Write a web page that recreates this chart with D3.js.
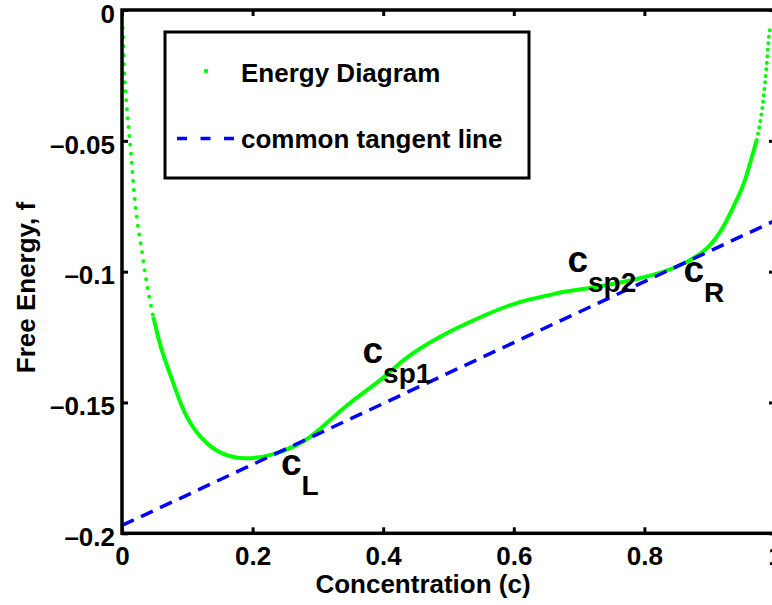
<!DOCTYPE html>
<html>
<head>
<meta charset="utf-8">
<script src="https://cdn.jsdelivr.net/npm/d3@7"></script>
<style>
  body { margin: 0; background: #fff; }
  text { font-family: "Liberation Sans", Arial, Helvetica, sans-serif; font-weight: bold; fill: #000; }
</style>
</head>
<body>
<svg id="chart" width="772" height="605"></svg>
<script>
// values
var conc = [0.001, 0.002, 0.003, 0.005, 0.0072, 0.0103, 0.0133, 0.0173, 0.0225, 0.0302, 0.0378, 0.0479,
            0.0608, 0.0786, 0.0991, 0.1297, 0.1603, 0.191, 0.2266, 0.2675, 0.3032, 0.3492, 0.3998, 0.441,
            0.5023, 0.5528, 0.6044, 0.6554, 0.6753, 0.727, 0.778, 0.8285, 0.8648, 0.8954, 0.9208, 0.9413,
            0.954, 0.972, 0.982, 0.987, 0.9913, 0.9934];
var energy = [-0.0070, -0.0127, -0.0210, -0.0293, -0.0370, -0.0452, -0.0535, -0.0662, -0.0790, -0.0917, -0.1043, -0.1172,
              -0.1299, -0.1426, -0.1554, -0.1655, -0.1701, -0.1713, -0.1701, -0.1663, -0.1601, -0.1502, -0.1406, -0.1320,
              -0.1229, -0.1170, -0.1120, -0.1089, -0.1078, -0.1058, -0.1034, -0.1001, -0.0963, -0.0911, -0.0828, -0.0726,
              -0.0650, -0.0497, -0.0344, -0.0217, -0.0088, -0.0064];

var tangentC = [0, 1];
var tangentF = [-0.197, -0.0805];

var xTicks = [0, 0.2, 0.4, 0.6, 0.8, 1];
var xTickLabels = ["0", "0.2", "0.4", "0.6", "0.8", "1"];
var yTicks = [0, -0.05, -0.1, -0.15, -0.2];
var yTickLabels = ["0", "\u20130.05", "\u20130.1", "\u20130.15", "\u20130.2"];

var pointNames = ["L", "sp1", "sp2", "R"];
var pointC = [0.2435, 0.3683, 0.6822, 0.8599];
var pointF = [-0.1777, -0.1350, -0.1000, -0.1038];

var legendNames = ["Energy Diagram", "common tangent line"];

var svg = d3.select("#chart");

var x = d3.scaleLinear().domain([0, 1]).range([122, 775]);
var y = d3.scaleLinear().domain([-0.2, 0]).range([533.3, 10]);

var curve = conc.map((c, i) => [c, energy[i]]);

var line = d3.line()
    .x(d => x(d[0]))
    .y(d => y(d[1]))
    .curve(d3.curveMonotoneX);

var smoothLine = d3.line()
    .x(d => x(d[0]))
    .y(d => y(d[1]))
    .curve(d3.curveNatural);

// steep ends are separate dots in the original, the middle looks solid
var leftPart = curve.slice(0, 12);
var midPart = curve.slice(11, 38);
var rightPart = curve.slice(37);

svg.append("path")
    .attr("d", smoothLine(midPart))
    .attr("fill", "none")
    .attr("stroke", "#00ff00")
    .attr("stroke-width", 4);

svg.append("path")
    .attr("d", line(leftPart))
    .attr("fill", "none")
    .attr("stroke", "#00ff00")
    .attr("stroke-width", 4)
    .attr("stroke-linecap", "round")
    .attr("stroke-dasharray", "0 9");

svg.append("path")
    .attr("d", line(rightPart))
    .attr("fill", "none")
    .attr("stroke", "#00ff00")
    .attr("stroke-width", 4)
    .attr("stroke-linecap", "round")
    .attr("stroke-dasharray", "0 6.5");

svg.append("path")
    .attr("d", d3.line()(tangentC.map((c, i) => [x(c), y(tangentF[i])])))
    .attr("fill", "none")
    .attr("stroke", "#0000ff")
    .attr("stroke-width", 3.5)
    .attr("stroke-dasharray", "13 8");

// point labels c_L, c_sp1 ...
pointNames.forEach((name, i) => {
    var t = svg.append("text")
        .attr("x", x(pointC[i]))
        .attr("y", y(pointF[i]));
    t.append("tspan").attr("font-size", 37).text("c");
    t.append("tspan").attr("font-size", 28).attr("dy", 20).text(name);
});

// axes
var axBottom = svg.append("g")
    .attr("transform", "translate(0," + y(-0.2) + ")")
    .call(d3.axisBottom(x).tickValues(xTicks).tickSize(-6).tickSizeOuter(0)
        .tickPadding(13).tickFormat((d, i) => xTickLabels[i]));
var axLeft = svg.append("g")
    .attr("transform", "translate(" + x(0) + ",0)")
    .call(d3.axisLeft(y).tickValues(yTicks).tickSize(-6).tickSizeOuter(0)
        .tickPadding(7).tickFormat((d, i) => yTickLabels[i]));
var axTop = svg.append("g")
    .attr("transform", "translate(0," + y(0) + ")")
    .call(d3.axisTop(x).tickValues(xTicks).tickSize(-6).tickSizeOuter(0).tickFormat(""));
var axRight = svg.append("g")
    .attr("transform", "translate(" + x(1) + ",0)")
    .call(d3.axisRight(y).tickValues(yTicks).tickSize(-6).tickSizeOuter(0).tickFormat(""));

[axBottom, axLeft, axTop, axRight].forEach(g => {
    g.select(".domain").remove();
    g.selectAll(".tick line").attr("stroke", "#000").attr("stroke-width", 3);
    g.selectAll("text")
        .attr("font-size", 26)
        .attr("font-family", "Liberation Sans, Arial, sans-serif")
        .attr("font-weight", "bold")
        .attr("fill", "#000");
});
axLeft.selectAll("text").attr("dy", "0.47em");

svg.append("rect")
    .attr("x", x(0))
    .attr("y", y(0))
    .attr("width", x(1) - x(0))
    .attr("height", y(-0.2) - y(0))
    .attr("fill", "none")
    .attr("stroke", "#000")
    .attr("stroke-width", 3.5);

svg.append("text")
    .attr("x", 423)
    .attr("y", 593)
    .attr("text-anchor", "middle")
    .attr("font-size", 26)
    .text("Concentration (c)");

svg.append("text")
    .attr("transform", "translate(35,287.5) rotate(-90)")
    .attr("text-anchor", "middle")
    .attr("font-size", 26)
    .text("Free Energy, f");

// legend
var legend = svg.append("g");
legend.append("rect")
    .attr("x", 165).attr("y", 32)
    .attr("width", 364).attr("height", 146)
    .attr("fill", "#fff")
    .attr("stroke", "#000")
    .attr("stroke-width", 3);

legend.append("circle")
    .attr("cx", 206).attr("cy", 71).attr("r", 2.2)
    .attr("fill", "#00ff00");

legend.append("line")
    .attr("x1", 177).attr("x2", 234)
    .attr("y1", 138.5).attr("y2", 138.5)
    .attr("stroke", "#0000ff")
    .attr("stroke-width", 3.5)
    .attr("stroke-dasharray", "10 13.5");

legend.selectAll("text.item")
    .data(legendNames)
    .enter().append("text")
    .attr("class", "item")
    .attr("x", 241)
    .attr("y", (d, i) => 81.5 + i * 66.5)
    .attr("font-size", 26)
    .text(d => d);
</script>
</body>
</html>
